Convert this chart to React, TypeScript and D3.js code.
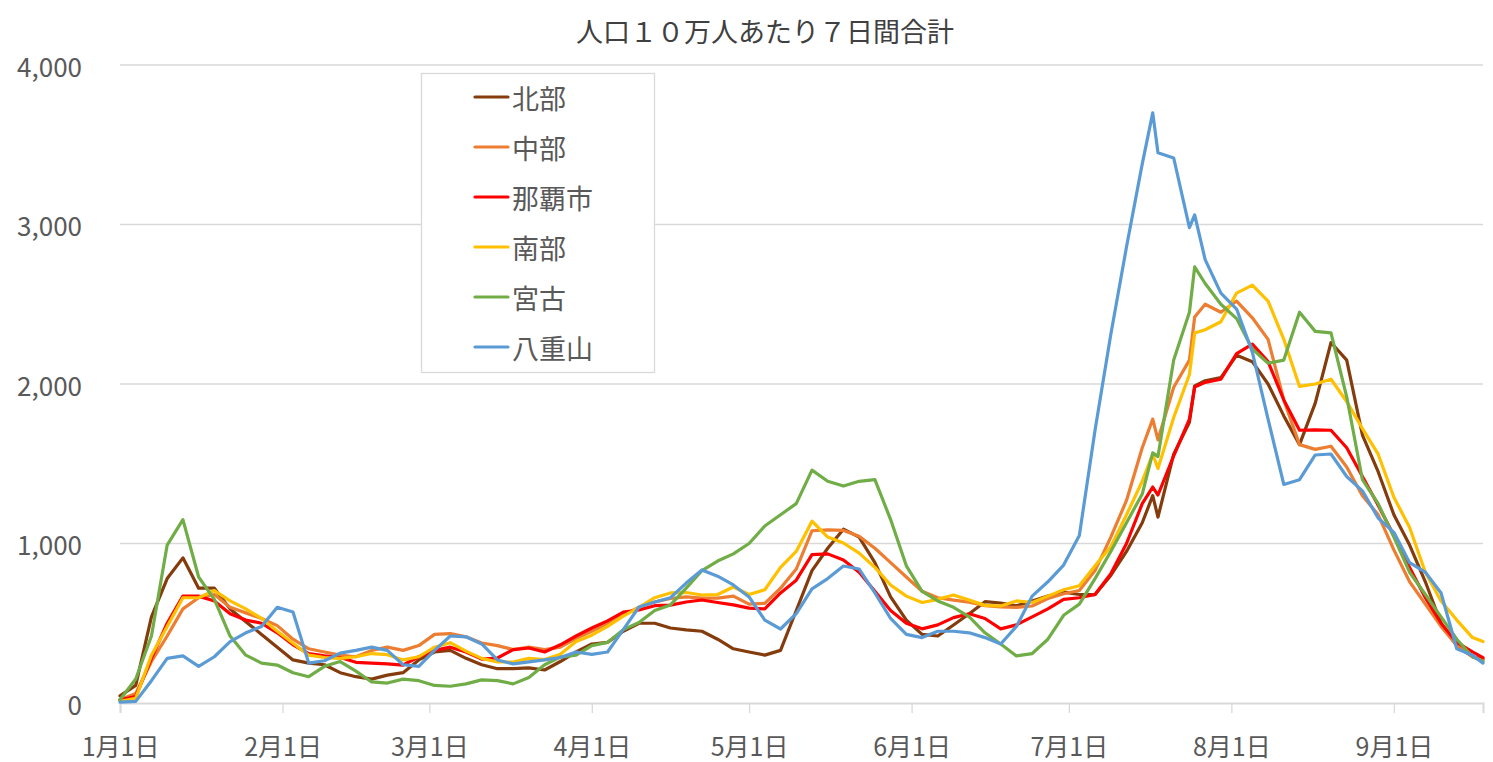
import * as d3 from "d3";
import { useEffect, useRef } from "react";

// sample dates (every ~3 days, 2022)
const dates = [
  "2022-01-01", "2022-01-04", "2022-01-07", "2022-01-10", "2022-01-13", "2022-01-16", "2022-01-19", "2022-01-22",
  "2022-01-25", "2022-01-28", "2022-01-31", "2022-02-03", "2022-02-06", "2022-02-09", "2022-02-12", "2022-02-15",
  "2022-02-18", "2022-02-21", "2022-02-24", "2022-02-27", "2022-03-02", "2022-03-05", "2022-03-08", "2022-03-11",
  "2022-03-14", "2022-03-17", "2022-03-20", "2022-03-23", "2022-03-26", "2022-03-29", "2022-04-01", "2022-04-04",
  "2022-04-07", "2022-04-10", "2022-04-13", "2022-04-16", "2022-04-19", "2022-04-22", "2022-04-25", "2022-04-28",
  "2022-05-01", "2022-05-04", "2022-05-07", "2022-05-10", "2022-05-13", "2022-05-16", "2022-05-19", "2022-05-22",
  "2022-05-25", "2022-05-28", "2022-05-31", "2022-06-03", "2022-06-06", "2022-06-09", "2022-06-12", "2022-06-15",
  "2022-06-18", "2022-06-21", "2022-06-24", "2022-06-27", "2022-06-30", "2022-07-03", "2022-07-06", "2022-07-09",
  "2022-07-12", "2022-07-15", "2022-07-17", "2022-07-18", "2022-07-21", "2022-07-24", "2022-07-25", "2022-07-27",
  "2022-07-30", "2022-08-02", "2022-08-05", "2022-08-08", "2022-08-11", "2022-08-14", "2022-08-17", "2022-08-20",
  "2022-08-23", "2022-08-26", "2022-08-29", "2022-09-01", "2022-09-04", "2022-09-07", "2022-09-10", "2022-09-13",
  "2022-09-16", "2022-09-18",
];

const hokubu = [
  45, 110, 540, 780, 910, 720, 720, 590, 510, 430, 350, 270, 250, 240, 190,
  165, 150, 175, 190, 270, 320, 330, 280, 240, 215, 215, 220, 207, 260, 320, 370, 380, 450,
  500, 500, 470, 458, 450, 400, 340, 320, 300, 330, 580, 830, 970, 1090, 1040, 880, 665, 520, 430,
  420, 489, 560, 635, 627, 610, 640, 670, 695, 680, 680,
  800, 950, 1130, 1300, 1166, 1560, 1760, 1988, 2020, 2040, 2180, 2140, 2000, 1800, 1620, 1880, 2260, 2150,
  1680, 1450, 1180, 990, 760, 500, 360, 290, 275,
];
const chubu = [
  20, 60, 260, 420, 590, 660, 680, 600, 565, 530, 485, 400, 340, 320, 300,
  290, 330, 350, 330, 360, 430, 435, 415, 376, 360, 335, 350, 335, 350, 405, 450, 500, 550,
  600, 633, 655, 665, 658, 658, 670, 620, 625, 720, 840, 1080, 1085, 1082, 1045, 970, 880, 790, 700,
  660, 645, 632, 610, 602, 600, 608, 655, 685, 705, 830,
  1040, 1270, 1600, 1780, 1650, 1980, 2150, 2420, 2500, 2450, 2520, 2415, 2280, 1900, 1620, 1590, 1610, 1480,
  1300, 1180, 960, 760, 620, 480, 360, 290, 270,
];
const naha = [
  20, 40, 280, 500, 670, 670, 640, 560, 520, 500, 440, 365, 310, 295, 285,
  255, 250, 245, 238, 290, 330, 350, 320, 275, 282, 335, 345, 320, 365, 420, 470, 515, 570,
  583, 610, 614, 633, 646, 630, 615, 595, 590, 690, 770, 930, 935, 897, 820, 700, 580, 500, 465,
  490, 535, 560, 530, 465, 490, 540, 590, 650, 660, 680,
  810, 1000, 1250, 1354, 1304, 1550, 1780, 1981, 2010, 2030, 2190, 2250, 2140, 1900, 1710, 1712, 1710, 1600,
  1420, 1240, 1050, 850, 660, 500, 380, 320, 285,
];
const nanbu = [
  10, 30, 300, 480, 660, 660, 705, 640, 590, 530, 450, 375, 300, 285, 280,
  290, 310, 303, 270, 290, 350, 378, 325, 280, 257, 257, 280, 272, 305, 385, 425, 480, 545,
  600, 660, 690, 693, 677, 680, 727, 680, 710, 850, 950, 1140, 1040, 1003, 940, 850, 740, 670, 630,
  650, 677, 645, 612, 608, 640, 630, 670, 710, 735, 860,
  980, 1180, 1390, 1560, 1470, 1790, 2060, 2320, 2340, 2390, 2570, 2620, 2520, 2280, 1985, 2000, 2030, 1890,
  1720, 1560, 1290, 1100, 820, 640, 520, 410, 385,
];
const miyako = [
  20, 150, 420, 990, 1150, 790, 650, 420, 300, 250, 238, 190, 165, 230, 260,
  200, 132, 125, 150, 140, 110, 105, 120, 145, 140, 120, 160, 240, 288, 300, 360, 380, 460,
  505, 580, 615, 720, 830, 890, 935, 1000, 1110, 1180, 1250, 1460, 1390, 1360, 1390, 1400, 1150, 860, 700,
  640, 600, 540, 440, 370, 295, 310, 400, 550, 620, 780,
  950, 1130, 1310, 1568, 1545, 2150, 2450, 2734, 2630, 2500, 2410, 2220, 2130, 2150, 2450, 2330, 2320, 1920,
  1400, 1250, 1040, 820, 680, 540, 400, 290, 260,
];
const yaeyama = [
  5, 10, 140, 280, 295, 230, 290, 385, 440, 480, 600, 570, 250, 265, 313,
  330, 350, 330, 240, 230, 330, 420, 415, 370, 270, 245, 258, 270, 285, 320, 305, 320, 460,
  602, 633, 660, 752, 834, 795, 740, 665, 520, 464, 560, 715, 780, 859, 840, 690, 530, 430, 410,
  450, 450, 440, 410, 370, 480, 670, 760, 865, 1050, 1712,
  2310, 2860, 3380, 3700, 3450, 3417, 2980, 3060, 2780, 2570, 2470, 2200, 1780, 1370, 1400, 1555, 1561, 1420,
  1330, 1160, 1070, 880, 820, 690, 340, 300, 250,
];

const seriesNames = ["北部", "中部", "那覇市", "南部", "宮古", "八重山"];
const seriesColors = ["#843C0C", "#ED7D31", "#FF0000", "#FFC000", "#70AD47", "#5B9BD5"];
const seriesValues = [hokubu, chubu, naha, nanbu, miyako, yaeyama];

const yTicks = [0, 1000, 2000, 3000, 4000];
const monthTicks = [
  "2022-01-01", "2022-02-01", "2022-03-01", "2022-04-01", "2022-05-01",
  "2022-06-01", "2022-07-01", "2022-08-01", "2022-09-01",
];
const title = "人口１０万人あたり７日間合計";

const W = 1493;
const H = 762;
const FONT = "'Noto Sans CJK JP', 'Noto Sans', sans-serif";

export default function App() {
  const ref = useRef<SVGSVGElement | null>(null);

  useEffect(() => {
    const svg = d3.select(ref.current);
    svg.selectAll("*").remove();

    const parse = d3.timeParse("%Y-%m-%d");
    const xDates = dates.map((d) => parse(d) as Date);

    const x = d3.scaleTime()
      .domain([parse("2022-01-01") as Date, parse("2022-09-18") as Date])
      .range([120, 1483]);
    const y = d3.scaleLinear().domain([0, 4000]).range([703, 65]);

    svg.append("rect").attr("width", W).attr("height", H).attr("fill", "#fff");

    // title
    svg.append("text")
      .attr("x", 765)
      .attr("y", 30)
      .attr("text-anchor", "middle")
      .attr("dominant-baseline", "central")
      .attr("font-family", FONT)
      .attr("font-size", 27)
      .attr("fill", "#404040")
      .text(title);

    // gridlines
    svg.append("g")
      .selectAll("line")
      .data(yTicks.filter((t) => t > 0))
      .enter().append("line")
      .attr("x1", 120)
      .attr("x2", 1483)
      .attr("y1", (d) => y(d))
      .attr("y2", (d) => y(d))
      .attr("stroke", "#d9d9d9")
      .attr("stroke-width", 1.3);

    // y labels
    svg.append("g")
      .selectAll("text")
      .data(yTicks)
      .enter().append("text")
      .attr("x", 82)
      .attr("y", (d) => y(d))
      .attr("text-anchor", "end")
      .attr("dominant-baseline", "central")
      .attr("font-family", FONT)
      .attr("font-size", 26)
      .attr("fill", "#595959")
      .text((d) => d3.format(",")(d));

    // x axis
    const xAxis = d3.axisBottom(x)
      .tickValues(monthTicks.map((d) => parse(d) as Date))
      .tickSize(10)
      .tickFormat((d) => `${(d as Date).getMonth() + 1}月1日`);
    const gx = svg.append("g").attr("transform", `translate(0, ${y(0)})`).call(xAxis);
    gx.select(".domain").attr("stroke", "#d9d9d9").attr("stroke-width", 2);
    gx.selectAll(".tick line").attr("stroke", "#d9d9d9").attr("stroke-width", 1.3);
    gx.selectAll(".tick text")
      .attr("y", 42)
      .attr("dy", 0)
      .attr("dominant-baseline", "central")
      .attr("font-family", FONT)
      .attr("font-size", 25)
      .attr("fill", "#595959");

    // lines
    const line = d3.line<number>()
      .x((_, i) => x(xDates[i]))
      .y((d) => y(d));

    svg.append("g")
      .selectAll("path")
      .data(seriesValues)
      .enter().append("path")
      .attr("fill", "none")
      .attr("stroke", (_, i) => seriesColors[i])
      .attr("stroke-width", 3.2)
      .attr("stroke-linejoin", "round")
      .attr("stroke-linecap", "round")
      .attr("d", (d) => line(d));

    // legend
    const legend = svg.append("g");
    legend.append("rect")
      .attr("x", 421.5)
      .attr("y", 73.5)
      .attr("width", 233)
      .attr("height", 299)
      .attr("fill", "#fff")
      .attr("stroke", "#d9d9d9")
      .attr("stroke-width", 1.3);
    const rows = legend.selectAll("g.row")
      .data(seriesNames)
      .enter().append("g")
      .attr("transform", (_, i) => `translate(0, ${97 + i * 50})`);
    rows.append("line")
      .attr("x1", 475)
      .attr("x2", 508)
      .attr("stroke", (_, i) => seriesColors[i])
      .attr("stroke-width", 3.2)
      .attr("stroke-linecap", "round");
    rows.append("text")
      .attr("x", 512)
      .attr("dominant-baseline", "central")
      .attr("font-family", FONT)
      .attr("font-size", 27)
      .attr("fill", "#595959")
      .text((d) => d);
  }, []);

  return (
    <svg
      ref={ref}
      width={W}
      height={H}
      style={{ position: "absolute", left: 0, top: 0 }}
    ></svg>
  );
}
